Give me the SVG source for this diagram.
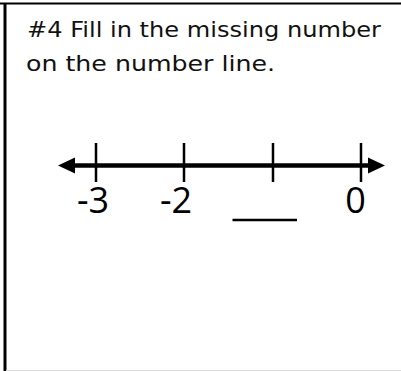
<svg xmlns="http://www.w3.org/2000/svg" width="401" height="371" viewBox="0 0 401 371">
<style>
.title{font-family:"DejaVu Sans","Liberation Sans",sans-serif;font-size:22px;fill:#111}
.lbl{font-family:"Open Sans","Noto Sans",sans-serif;font-size:36px;fill:#000}
.tick{stroke:#000;stroke-width:2.5}
</style>
<rect width="401" height="371" fill="#fff"/>
<g id="frame">
<line x1="0" y1="3.5" x2="401" y2="3.5" stroke="#000" stroke-width="2"/>
<line x1="5" y1="3" x2="5" y2="371" stroke="#000" stroke-width="3"/>
<line x1="6" y1="370.5" x2="401" y2="370.5" stroke="#ddd" stroke-width="1"/>
</g>
<g id="title">
<text class="title" x="27" y="37" textLength="354" lengthAdjust="spacingAndGlyphs">#4 Fill in the missing number</text>
<text class="title" x="26" y="71" textLength="249" lengthAdjust="spacingAndGlyphs">on the number line.</text>
</g>
<g id="numberline">
<line x1="70" y1="165.5" x2="373" y2="165.5" stroke="#000" stroke-width="4.5"/>
<polygon points="58,165.5 75,157.5 75,173.5" fill="#000"/>
<polygon points="385,165.5 368,157.5 368,173.5" fill="#000"/>
<line class="tick" x1="96" y1="143" x2="96" y2="182"/>
<line class="tick" x1="184" y1="143" x2="184" y2="182"/>
<line class="tick" x1="273" y1="143" x2="273" y2="182"/>
<line class="tick" x1="361" y1="143" x2="361" y2="182"/>
</g>
<g id="labels">
<text class="lbl" x="93" y="213" text-anchor="middle">-3</text>
<text class="lbl" x="176" y="213" text-anchor="middle">-2</text>
<text class="lbl" x="355.5" y="213" text-anchor="middle">0</text>
<line x1="232.5" y1="220" x2="297" y2="220" stroke="#000" stroke-width="2.5"/>
</g>
</svg>
